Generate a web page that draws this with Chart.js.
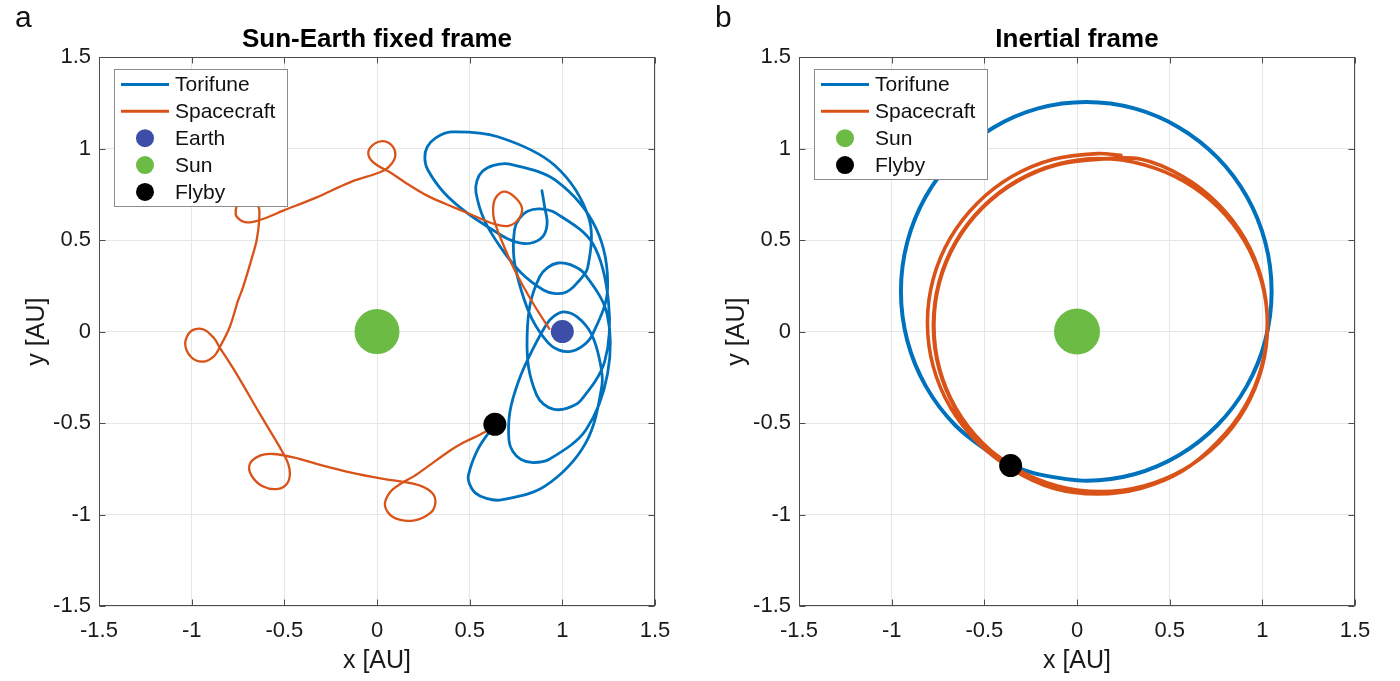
<!DOCTYPE html>
<html>
<head>
<meta charset="utf-8">
<title>Torifune flyby trajectories</title>
<script src="https://cdn.jsdelivr.net/npm/chart.js@4.4.1/dist/chart.umd.min.js"></script>
<style>
  body { margin: 0; background: #fff; }
  #wrap { display: flex; width: 1400px; height: 681px; }
  .panel { width: 700px; height: 681px; }
</style>
</head>
<body>
<div id="wrap">
  <div class="panel"><canvas id="fixed" width="700" height="681"></canvas></div>
  <div class="panel"><canvas id="inertial" width="700" height="681"></canvas></div>
</div>
<script>
const FONT = "'Liberation Sans', Arial, Helvetica, sans-serif";

// axis ticks (same on both panels, both axes)
const tickValues = [-1.5, -1, -0.5, 0, 0.5, 1, 1.5];
const tickLabels = ['-1.5', '-1', '-0.5', '0', '0.5', '1', '1.5'];

// --- panel a: Sun-Earth fixed frame [x, y] in AU ---
const torifuneFixed = [
  [0.89, 0.77], [0.905, 0.68], [0.918, 0.595], [0.9, 0.527], [0.851, 0.49],
  [0.786, 0.482], [0.71, 0.505], [0.64, 0.546], [0.493, 0.643], [0.362, 0.759],
  [0.273, 0.886], [0.258, 0.95], [0.271, 1.009], [0.317, 1.059], [0.4, 1.092],
  [0.652, 1.065], [0.958, 0.909], [1.143, 0.62], [1.137, 0.35], [1.075, 0.261],
  [1.022, 0.217], [0.962, 0.208], [0.9, 0.226], [0.777, 0.322], [0.668, 0.459],
  [0.579, 0.61], [0.534, 0.759], [0.539, 0.824], [0.569, 0.876], [0.629, 0.909],
  [0.717, 0.915], [0.966, 0.825], [1.182, 0.564], [1.244, 0.231], [1.162, -0.018],
  [1.103, -0.084], [1.039, -0.109], [0.979, -0.1], [0.925, -0.063], [0.838, 0.066],
  [0.777, 0.23], [0.739, 0.401], [0.742, 0.557], [0.767, 0.617], [0.812, 0.658],
  [0.879, 0.671], [0.965, 0.648], [1.164, 0.482], [1.249, 0.164], [1.229, -0.162],
  [1.1, -0.376], [1.023, -0.42], [0.955, -0.425], [0.9, -0.398], [0.861, -0.346],
  [0.818, -0.196], [0.81, -0.021], [0.827, 0.153], [0.878, 0.3], [0.92, 0.35],
  [0.976, 0.375], [1.043, 0.366], [1.118, 0.318], [1.241, 0.098], [1.244, -0.231],
  [1.127, -0.538], [0.93, -0.698], [0.843, -0.716], [0.777, -0.699], [0.733, -0.656],
  [0.712, -0.595], [0.717, -0.439], [0.764, -0.27], [0.834, -0.11], [0.915, 0.04],
  [0.955, 0.085], [1.01, 0.108], [1.08, 0.08], [1.155, -0.01], [1.2, -0.15],
  [1.214, -0.291], [1.125, -0.611], [0.906, -0.845], [0.67, -0.92], [0.59, -0.912],
  [0.528, -0.88], [0.5, -0.835], [0.493, -0.786], [0.546, -0.64], [0.636, -0.507]
];
const spacecraftFixed = [
  [0.93, 0.015], [0.855, 0.133], [0.782, 0.26], [0.727, 0.369], [0.673, 0.496],
  [0.645, 0.569], [0.627, 0.642], [0.636, 0.724], [0.682, 0.765], [0.736, 0.742],
  [0.782, 0.678], [0.764, 0.615], [0.709, 0.578], [0.636, 0.587], [0.545, 0.624],
  [0.418, 0.678], [0.273, 0.742], [0.16, 0.81], [0.07, 0.871], [-0.02, 0.925],
  [-0.047, 0.98], [-0.011, 1.029], [0.043, 1.04], [0.088, 1.007], [0.097, 0.952],
  [0.061, 0.898], [0.016, 0.871], [-0.146, 0.816], [-0.326, 0.734], [-0.506, 0.661],
  [-0.632, 0.61], [-0.704, 0.597], [-0.755, 0.625], [-0.762, 0.665], [-0.742, 0.708],
  [-0.686, 0.722], [-0.64, 0.685], [-0.636, 0.607], [-0.65, 0.497], [-0.669, 0.424],
  [-0.723, 0.242], [-0.75, 0.169], [-0.795, 0.024], [-0.849, -0.086], [-0.88, -0.135],
  [-0.939, -0.164], [-1.002, -0.14], [-1.035, -0.065], [-1.002, 0.004], [-0.939, 0.013],
  [-0.88, -0.035], [-0.849, -0.086], [-0.758, -0.231], [-0.632, -0.45], [-0.52, -0.64],
  [-0.48, -0.72], [-0.47, -0.78], [-0.485, -0.83], [-0.533, -0.86], [-0.614, -0.847],
  [-0.677, -0.787], [-0.686, -0.723], [-0.632, -0.678], [-0.56, -0.669], [-0.45, -0.688],
  [-0.326, -0.723], [-0.146, -0.769], [0.034, -0.805], [0.151, -0.823], [0.24, -0.845],
  [0.3, -0.885], [0.315, -0.935], [0.29, -0.99], [0.196, -1.033], [0.088, -1.015],
  [0.043, -0.951], [0.07, -0.878], [0.13, -0.83], [0.2, -0.79], [0.269, -0.741],
  [0.395, -0.65], [0.455, -0.613], [0.582, -0.549], [0.636, -0.507]
];
const earthFixed = [[1, 0]];
const sunPos = [[0, 0]];
const flybyFixed = [[0.636, -0.507]];

// --- panel b: inertial frame [x, y] in AU ---
const torifuneInertial = [
  [-0.358, -0.732], [-0.209, -0.78], [0.05, -0.815], [0.309, -0.78], [0.55, -0.676],
  [0.757, -0.512], [0.916, -0.298], [1.016, -0.048], [1.05, 0.22], [1.016, 0.488],
  [0.916, 0.738], [0.757, 0.952], [0.55, 1.116], [0.309, 1.22], [0.05, 1.255],
  [-0.209, 1.22], [-0.45, 1.116], [-0.657, 0.952], [-0.816, 0.738], [-0.916, 0.488],
  [-0.95, 0.22], [-0.916, -0.048], [-0.816, -0.298], [-0.657, -0.512], [-0.45, -0.676],
  [-0.358, -0.732]
];
const spacecraftInertial = [
  [0.237, 0.964], [0.11, 0.973], [-0.127, 0.942], [-0.349, 0.849], [-0.538, 0.702],
  [-0.684, 0.511], [-0.776, 0.288], [-0.807, 0.049], [-0.776, -0.19], [-0.684, -0.413],
  [-0.538, -0.604], [-0.349, -0.753], [-0.127, -0.856], [0.11, -0.887], [0.347, -0.856],
  [0.569, -0.762], [0.758, -0.604], [0.904, -0.413], [0.996, -0.19], [1.027, 0.049],
  [0.996, 0.288], [0.904, 0.511], [0.758, 0.702], [0.569, 0.849], [0.347, 0.942],
  [0.128, 0.943], [-0.106, 0.912], [-0.323, 0.821], [-0.509, 0.677], [-0.652, 0.489],
  [-0.742, 0.269], [-0.772, 0.034], [-0.742, -0.201], [-0.652, -0.421], [-0.509, -0.609],
  [-0.323, -0.753], [-0.106, -0.844], [0.128, -0.875], [0.361, -0.844], [0.578, -0.753],
  [0.764, -0.609], [0.907, -0.421], [0.997, -0.201], [1.028, 0.034], [0.997, 0.269],
  [0.907, 0.489], [0.764, 0.677], [0.578, 0.821], [0.361, 0.912], [0.128, 0.946],
  [-0.108, 0.915], [-0.325, 0.824], [-0.511, 0.679], [-0.655, 0.49], [-0.745, 0.269],
  [-0.775, 0.034], [-0.745, -0.202], [-0.655, -0.423], [-0.511, -0.611], [-0.358, -0.732]
];
const flybyInertial = [[-0.358, -0.732]];

const BLUE = '#0072BD';
const ORANGE = '#D95319';
const EARTH = '#3c4ea8';
const SUN = '#6cbb45';

const toXY = pts => pts.map(p => ({ x: p[0], y: p[1] }));

function track(label, pts, color, width, order) {
  return {
    label, data: toXY(pts), showLine: true, borderColor: color, borderWidth: width,
    backgroundColor: color, pointRadius: 0, tension: 0.34, fill: false,
    borderJoinStyle: 'round', borderCapStyle: 'round', order, legendKind: 'line'
  };
}
function dot(label, pts, color, radius, order) {
  return {
    label, data: toXY(pts), showLine: false, pointRadius: radius, pointBorderWidth: 0,
    pointBackgroundColor: color, backgroundColor: color, borderColor: color, order,
    legendKind: 'dot'
  };
}

// MATLAB-style box, inward ticks, legend and panel letter
const matlabFrame = {
  id: 'matlabFrame',
  afterDatasetsDraw(chart) {
    const { ctx, chartArea: a, scales: { x, y } } = chart;
    ctx.save();
    ctx.strokeStyle = '#4d4d4d';
    ctx.lineWidth = 1;
    const L = Math.round(a.left) + 0.5, R = Math.round(a.right) - 0.5;
    const T = Math.round(a.top) + 0.5, B = Math.round(a.bottom) - 0.5;
    ctx.strokeRect(L, T, R - L, B - T);
    ctx.beginPath();
    tickValues.forEach(v => {
      const px = Math.round(x.getPixelForValue(v)) + 0.5;
      const py = Math.round(y.getPixelForValue(v)) + 0.5;
      ctx.moveTo(px, B); ctx.lineTo(px, B - 6);
      ctx.moveTo(px, T); ctx.lineTo(px, T + 6);
      ctx.moveTo(L, py); ctx.lineTo(L + 6, py);
      ctx.moveTo(R, py); ctx.lineTo(R - 6, py);
    });
    ctx.stroke();
    ctx.restore();
  },
  afterDraw(chart, args, opts) {
    const { ctx, chartArea: a } = chart;
    const items = chart.data.datasets.filter(d => d.legendKind);
    const rowH = 26.85;
    const bx = a.left + 15, by = a.top + 12, bw = 173;
    const bh = (items.length - 1) * rowH + 29.6;
    ctx.save();
    ctx.fillStyle = '#fff';
    ctx.fillRect(bx, by, bw, bh);
    ctx.strokeStyle = '#8c8c8c';
    ctx.lineWidth = 1;
    ctx.strokeRect(Math.round(bx) + 0.5, Math.round(by) + 0.5, bw, Math.round(bh));
    ctx.font = '21px ' + FONT;
    ctx.textBaseline = 'middle';
    items.forEach((d, i) => {
      const cy = by + 15.3 + i * rowH;
      if (d.legendKind === 'line') {
        ctx.strokeStyle = d.borderColor;
        ctx.lineWidth = 3;
        ctx.beginPath();
        ctx.moveTo(bx + 7, cy); ctx.lineTo(bx + 55, cy);
        ctx.stroke();
      } else {
        ctx.fillStyle = d.pointBackgroundColor;
        ctx.beginPath();
        ctx.arc(bx + 31, cy, 9, 0, Math.PI * 2);
        ctx.fill();
      }
      ctx.fillStyle = '#111';
      ctx.fillText(d.label, bx + 61, cy + 1);
    });
    ctx.font = '30px ' + FONT;
    ctx.textBaseline = 'alphabetic';
    ctx.fillStyle = '#111';
    ctx.fillText(opts.letter, 15, 27);
    ctx.restore();
  }
};

function axis(titleText, isX) {
  return {
    type: 'linear', min: -1.5, max: 1.5,
    afterBuildTicks: s => { s.ticks = tickValues.map(v => ({ value: v })); },
    afterFit: s => { if (isX) s.height = 75; else s.width = 99; },
    ticks: {
      callback: v => tickLabels[tickValues.indexOf(v)],
      color: '#1a1a1a', font: { family: FONT, size: 22 },
      padding: isX ? 12 : 8, maxRotation: 0, autoSkip: false
    },
    grid: { color: '#e6e6e6', drawTicks: false },
    border: { display: false },
    title: {
      display: true, text: titleText, color: '#1a1a1a',
      font: { family: FONT, size: 25 },
      padding: isX ? { top: 0, bottom: 5 } : { top: 22, bottom: 0 }
    }
  };
}

function makeChart(id, title, letter, datasets) {
  return new Chart(document.getElementById(id), {
    type: 'scatter',
    data: { datasets },
    options: {
      responsive: false, animation: false, devicePixelRatio: 1,
      layout: { padding: { left: 0, right: 45, top: 0, bottom: 0 } },
      scales: { x: axis('x [AU]', true), y: axis('y [AU]', false) },
      plugins: {
        legend: { display: false },
        tooltip: { enabled: false },
        title: {
          display: true, text: title, fullSize: false, color: '#000',
          font: { family: FONT, size: 26, weight: 'bold' },
          padding: { top: 24, bottom: 2 }
        },
        matlabFrame: { letter }
      }
    },
    plugins: [matlabFrame]
  });
}

makeChart('fixed', 'Sun-Earth fixed frame', 'a', [
  track('Torifune', torifuneFixed, BLUE, 2.8, 5),
  track('Spacecraft', spacecraftFixed, ORANGE, 2.3, 4),
  dot('Earth', earthFixed, EARTH, 11.5, 3),
  dot('Sun', sunPos, SUN, 22.5, 2),
  dot('Flyby', flybyFixed, '#000', 11.5, 1)
]);

makeChart('inertial', 'Inertial frame', 'b', [
  track('Torifune', torifuneInertial, BLUE, 4, 4),
  track('Spacecraft', spacecraftInertial, ORANGE, 3.6, 3),
  dot('Sun', sunPos, SUN, 23, 2),
  dot('Flyby', flybyInertial, '#000', 11.5, 1)
]);
</script>
</body>
</html>
